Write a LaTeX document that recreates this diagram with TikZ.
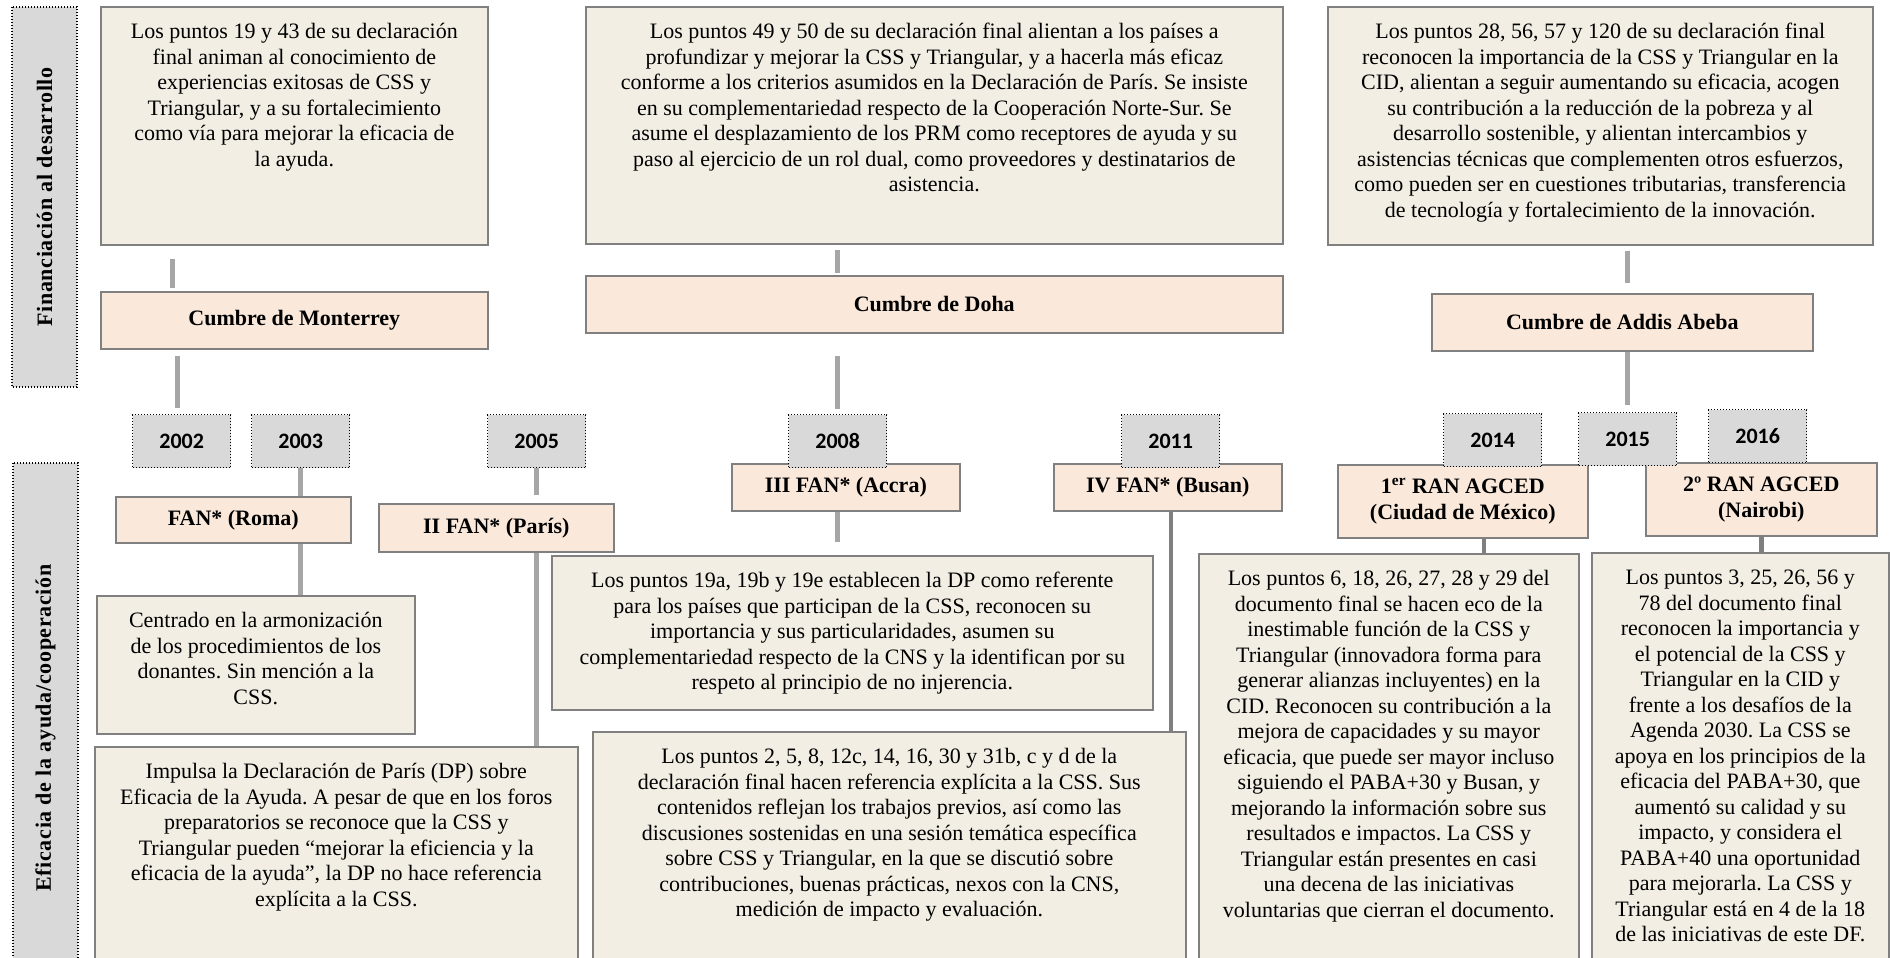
\documentclass[tikz,border=0pt]{standalone}
\usepackage{fontspec}
\setmainfont{Liberation Serif}
\newfontfamily\yearfont{Carlito}
\newfontfamily\sidefont[LetterSpace=3]{Liberation Serif}
\frenchspacing

\definecolor{boxline}{HTML}{808080}
\definecolor{txtfill}{HTML}{F2EEE4}
\definecolor{ttlfill}{HTML}{FAE8DA}
\definecolor{yrfill}{HTML}{D9D9D9}
\definecolor{connlight}{HTML}{A6A6A6}
\definecolor{conndark}{HTML}{7F7F7F}

\tikzset{
  txtbox/.style={draw=boxline, fill=txtfill, line width=0.8pt, inner sep=0pt, anchor=north west, font=\fontsize{11}{12.75}\selectfont},
  ttlbox/.style={draw=boxline, fill=ttlfill, line width=0.8pt, inner sep=0pt, anchor=north west, align=center, font=\fontsize{11}{12.75}\selectfont\bfseries},
  yrbox/.style={draw=black, line width=0.7pt, dash pattern=on 0.6pt off 0.9pt, fill=yrfill, inner sep=0pt, anchor=north west, minimum width=49pt, minimum height=26.5pt, font=\yearfont\fontsize{11}{13}\selectfont\bfseries},
  sidebox/.style={draw=black, line width=0.7pt, dash pattern=on 0.6pt off 0.9pt, fill=yrfill, inner sep=0pt, rotate=90, minimum height=32.5pt, font=\sidefont\fontsize{11}{13}\selectfont\bfseries},
  lconn/.style={draw=connlight, line width=2.5pt},
  dconn/.style={draw=conndark, line width=2.2pt}
}

% text box body: width, height, text (lines broken by hand)
\newcommand{\boxpar}[3]{\parbox[c][#2][t]{#1}{\centering\rule{0pt}{16pt}#3}}

\begin{document}
\begin{tikzpicture}[x=0.5pt, y=-0.5pt]
    \clip (0,0) rectangle (1890,958);

    % side labels
    \node[sidebox, minimum width=190pt] (finlab) at (44.5,197) {Financiación al desarrollo};
    \node[sidebox, minimum width=265pt] (eflab) at (45.5,728) {Eficacia de la ayuda/cooperación};

    % upper row: summits
    \node[txtbox] (mtxt) at (100,6) {\boxpar{193.5pt}{119pt}{Los puntos 19 y 43 de su declaración\\
        final animan al conocimiento de\\ experiencias exitosas de CSS y\\
        Triangular, y a su fortalecimiento\\ como vía para mejorar la eficacia de\\ la ayuda.}};
    \node[txtbox] (dtxt) at (585,6) {\boxpar{348.5pt}{118.5pt}{Los puntos 49 y 50 de su declaración final alientan a los países a\\
        profundizar y mejorar la CSS y Triangular, y a hacerla más eficaz\\
        conforme a los criterios asumidos en la Declaración de París. Se insiste\\
        en su complementariedad respecto de la Cooperación Norte-Sur. Se\\
        asume el desplazamiento de los PRM como receptores de ayuda y su\\
        paso al ejercicio de un rol dual, como proveedores y destinatarios de\\ asistencia.}};
    \node[txtbox] (atxt) at (1327,6) {\boxpar{272.5pt}{119pt}{Los puntos 28, 56, 57 y 120 de su declaración final\\
        reconocen la importancia de la CSS y Triangular en la\\
        CID, alientan a seguir aumentando su eficacia, acogen\\
        su contribución a la reducción de la pobreza y al\\
        desarrollo sostenible, y alientan intercambios y\\
        asistencias técnicas que complementen otros esfuerzos,\\
        como pueden ser en cuestiones tributarias, transferencia\\
        de tecnología y fortalecimiento de la innovación.}};

    \node[ttlbox, minimum width=193.5pt, minimum height=28.5pt] (mcum) at (100,291) {Cumbre de Monterrey};
    \node[ttlbox, minimum width=348.5pt, minimum height=28.5pt] (dcum) at (585,275) {Cumbre de Doha};
    \node[ttlbox, minimum width=190.5pt, minimum height=28.5pt] (acum) at (1431,293) {Cumbre de Addis Abeba};

    % lower row: fora and meetings
    \node[txtbox] (centr) at (96,595) {\boxpar{159pt}{69pt}{Centrado en la armonización\\
        de los procedimientos de los\\ donantes. Sin mención a la\\ CSS.}};
    \node[txtbox] (impul) at (94,746) {\boxpar{241.5pt}{125pt}{Impulsa la Declaración de París (DP) sobre\\
        Eficacia de la Ayuda. A pesar de que en los foros\\
        preparatorios se reconoce que la CSS y\\
        Triangular pueden “mejorar la eficiencia y la\\
        eficacia de la ayuda”, la DP no hace referencia\\ explícita a la CSS.}};
    \node[txtbox] (p19) at (551,555) {\boxpar{300.5pt}{77pt}{Los puntos 19a, 19b y 19e establecen la DP como referente\\
        para los países que participan de la CSS, reconocen su\\
        importancia y sus particularidades, asumen su\\
        complementariedad respecto de la CNS y la identifican por su\\
        respeto al principio de no injerencia.}};
    \node[txtbox] (p2) at (592,731) {\boxpar{296.5pt}{130pt}{Los puntos 2, 5, 8, 12c, 14, 16, 30 y 31b, c y d de la\\
        declaración final hacen referencia explícita a la CSS. Sus\\
        contenidos reflejan los trabajos previos, así como las\\
        discusiones sostenidas en una sesión temática específica\\
        sobre CSS y Triangular, en la que se discutió sobre\\
        contribuciones, buenas prácticas, nexos con la CNS,\\
        medición de impacto y evaluación.}};
    \node[txtbox] (p6) at (1198,553) {\boxpar{190pt}{225pt}{Los puntos 6, 18, 26, 27, 28 y 29 del\\
        documento final se hacen eco de la\\ inestimable función de la CSS y\\
        Triangular (innovadora forma para\\ generar alianzas incluyentes) en la\\
        CID. Reconocen su contribución a la\\ mejora de capacidades y su mayor\\
        eficacia, que puede ser mayor incluso\\ siguiendo el PABA+30 y Busan, y\\
        mejorando la información sobre sus\\ resultados e impactos. La CSS y\\
        Triangular están presentes en casi\\ una decena de las iniciativas\\
        voluntarias que cierran el documento.}};
    \node[txtbox] (p3) at (1591,552) {\boxpar{148.5pt}{225pt}{Los puntos 3, 25, 26, 56 y\\
        78 del documento final\\ reconocen la importancia y\\ el potencial de la CSS y\\
        Triangular en la CID y\\ frente a los desafíos de la\\ Agenda 2030. La CSS se\\
        apoya en los principios de la\\ eficacia del PABA+30, que\\ aumentó su calidad y su\\
        impacto, y considera el\\ PABA+40 una oportunidad\\ para mejorarla. La CSS y\\
        Triangular está en 4 de la 18\\ de las iniciativas de este DF.}};

    \node[ttlbox, minimum width=117.5pt, minimum height=23pt] (froma) at (115,496) {FAN* (Roma)};
    \node[ttlbox, minimum width=117.5pt, minimum height=24pt] (fpar) at (378,503) {II FAN* (París)};
    \node[ttlbox, minimum width=114pt, minimum height=23.5pt] (facc) at (731,463) {III FAN* (Accra)};
    \node[ttlbox, minimum width=114pt, minimum height=23.5pt] (fbus) at (1053,463) {IV FAN* (Busan)};
    \node[ttlbox, minimum width=125pt, minimum height=36.5pt] (ran1) at (1337,464) {1\textsuperscript{er} RAN AGCED\\ (Ciudad de México)};
    \node[ttlbox, minimum width=115.5pt, minimum height=36.5pt] (ran2) at (1645,462) {2º RAN AGCED\\ (Nairobi)};

    % years
    \node[yrbox] (y2002) at (132,414) {2002};
    \node[yrbox] (y2003) at (251,414) {2003};
    \node[yrbox] (y2005) at (487,414) {2005};
    \node[yrbox] (y2008) at (788,414) {2008};
    \node[yrbox] (y2011) at (1121,414) {2011};
    \node[yrbox] (y2014) at (1443,413) {2014};
    \node[yrbox] (y2015) at (1578,412) {2015};
    \node[yrbox] (y2016) at (1708,409) {2016};

    % connectors
    \coordinate (xa) at (172,0);
    \coordinate (xb) at (177,0);
    \coordinate (xc) at (1484,0);
    \draw[lconn, shorten <=6.5pt, shorten >=1.5pt] (mtxt.south -| xa) -- (mcum.north -| xa);
    \draw[lconn, shorten <=3pt, shorten >=3pt] (mcum.south -| xb) -- (y2002.north -| xb);
    \draw[lconn, shorten <=2.5pt, shorten >=1pt] (dtxt.south -| y2008) -- (dcum.north -| y2008);
    \draw[lconn, shorten <=11pt, shorten >=2.5pt] (dcum.south -| y2008) -- (y2008.north);
    \draw[lconn, shorten <=2.5pt, shorten >=5pt] (atxt.south -| y2015) -- (acum.north -| y2015);
    \draw[lconn, shorten >=3.5pt] (acum.south -| y2015) -- (y2015.north);
    \draw[lconn] (y2003.south) -- (froma.north -| y2003);
    \draw[lconn] (froma.south -| y2003) -- (centr.north -| y2003);
    \draw[lconn, shorten >=4pt] (y2005.south) -- (fpar.north -| y2005);
    \draw[lconn] (fpar.south -| y2005) -- (impul.north -| y2005);
    \draw[lconn, shorten >=6.5pt] (facc.south -| y2008) -- (p19.north -| y2008);
    \draw[dconn] (fbus.south -| y2011) -- (p2.north -| y2011);
    \draw[dconn] (ran1.south -| xc) -- (p6.north -| xc);
    \draw[dconn] (ran2.south) -- (p3.north -| ran2);
\end{tikzpicture}
\end{document}
